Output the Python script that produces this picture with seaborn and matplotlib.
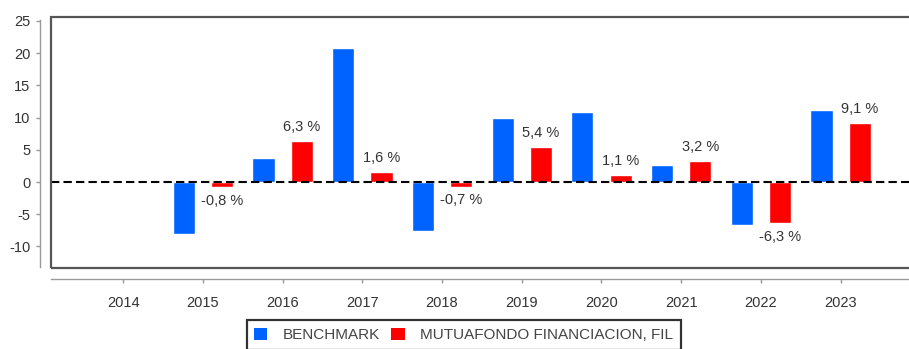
import matplotlib
matplotlib.use("Agg")
import matplotlib.pyplot as plt
from matplotlib.patches import Patch, Rectangle
import pandas as pd
import seaborn as sns

# Annual returns (%)
years = ["2014", "2015", "2016", "2017", "2018", "2019", "2020", "2021", "2022", "2023"]
benchmark = [None, -8.1, 3.8, 20.8, -7.6, 9.9, 10.9, 2.7, -6.7, 11.2]
fund = [None, -0.8, 6.3, 1.6, -0.7, 5.4, 1.1, 3.2, -6.3, 9.1]
series_names = ["BENCHMARK", "MUTUAFONDO FINANCIACION, FIL"]
colors = {"BENCHMARK": "#0062ff", "MUTUAFONDO FINANCIACION, FIL": "#ff0000"}
yticks = [-10, -5, 0, 5, 10, 15, 20, 25]

rows = []
for y, b, f in zip(years, benchmark, fund):
    if b is not None:
        rows.append({"year": y, "series": series_names[0], "value": b})
    if f is not None:
        rows.append({"year": y, "series": series_names[1], "value": f})
df = pd.DataFrame(rows)

sns.set_style("white")
plt.rcParams["font.family"] = ["Liberation Sans", "DejaVu Sans"]
plt.rcParams["axes.unicode_minus"] = False

fig = plt.figure(figsize=(9.09, 3.49), dpi=100)
ax = fig.add_axes([0.0561, 0.232, 0.952, 0.719])

sns.barplot(data=df, x="year", y="value", hue="series", order=years,
            hue_order=series_names, palette=colors, width=0.96, gap=0.42,
            saturation=1, errorbar=None, ax=ax, zorder=2)

ax.set_xlim(-0.905, 9.95)
ax.set_ylim(-13.35, 25.6)
ax.set_yticks(yticks)
ax.set_xlabel("")
ax.set_ylabel("")

# zero reference line
ax.axhline(0, color="black", lw=1.5, dashes=(4, 2), zorder=3)

# value labels on the fund bars
ax.bar_label(ax.containers[1], fmt=lambda v: f"{v:.1f}".replace(".", ",") + " %",
             padding=5, fontsize=10.5, color="#333333")

# plot frame plus detached axis lines
for s in ["top", "right"]:
    ax.spines[s].set_visible(False)
ax.spines["left"].set_position(("outward", 8))
ax.spines["bottom"].set_position(("outward", 8))
ax.spines["left"].set_bounds(-13.2, 25.15)
for s in ["left", "bottom"]:
    ax.spines[s].set_color("#999999")
    ax.spines[s].set_linewidth(1.0)
ax.add_patch(Rectangle((0, 0), 1, 1, transform=ax.transAxes, fill=False,
                       edgecolor="#555555", lw=1.6, clip_on=False, zorder=4))

ax.tick_params(axis="both", which="both", bottom=True, left=True, length=3,
               width=1, color="#999999", labelsize=10.5, labelcolor="#333333")
ax.tick_params(axis="y", pad=4)
ax.tick_params(axis="x", pad=9)

if ax.get_legend() is not None:
    ax.get_legend().remove()
handles = [Patch(facecolor=colors[n], edgecolor="none", label=n) for n in series_names]
leg = fig.legend(handles=handles, loc="upper center", bbox_to_anchor=(0.51, 0.083),
                 ncol=2, frameon=True, fancybox=False, fontsize=11,
                 handlelength=0.87, handleheight=0.87, handletextpad=1.0,
                 columnspacing=0.75, borderpad=0.5, borderaxespad=0)
leg.get_frame().set_edgecolor("black")
leg.get_frame().set_linewidth(1.6)
for t in leg.get_texts():
    t.set_color("#444444")

fig.savefig("out.png", dpi=100)
